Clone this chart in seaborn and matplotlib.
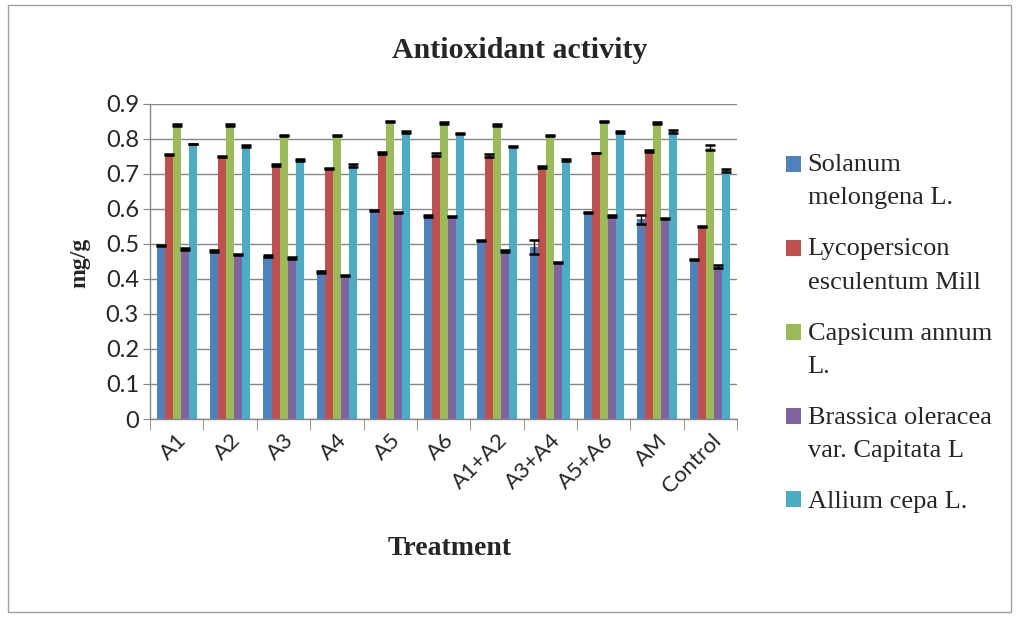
import numpy as np
import pandas as pd
import matplotlib
matplotlib.use("Agg")
import matplotlib.pyplot as plt
from matplotlib.patches import Rectangle, Patch
from matplotlib.legend_handler import HandlerPatch
import seaborn as sns

treatments = ["A1", "A2", "A3", "A4", "A5", "A6", "A1+A2", "A3+A4", "A5+A6", "AM", "Control"]
species = ["Solanum melongena L.", "Lycopersicon esculentum Mill", "Capsicum annum L.",
           "Brassica oleracea var. Capitata L", "Allium cepa L."]
legend_labels = ["Solanum\nmelongena L.", "Lycopersicon\nesculentum Mill", "Capsicum annum\nL.",
                 "Brassica oleracea\nvar. Capitata L", "Allium cepa L."]

solanum = [0.495, 0.480, 0.465, 0.420, 0.595, 0.580, 0.510, 0.490, 0.590, 0.570, 0.455]
lycopersicon = [0.755, 0.750, 0.725, 0.715, 0.760, 0.755, 0.752, 0.720, 0.760, 0.765, 0.550]
capsicum = [0.840, 0.840, 0.810, 0.810, 0.850, 0.845, 0.840, 0.810, 0.850, 0.845, 0.775]
brassica = [0.485, 0.470, 0.460, 0.410, 0.590, 0.578, 0.480, 0.447, 0.580, 0.572, 0.435]
allium = [0.785, 0.780, 0.740, 0.725, 0.820, 0.815, 0.778, 0.740, 0.820, 0.822, 0.710]

solanum_err = [0.002, 0.002, 0.002, 0.004, 0.002, 0.002, 0.002, 0.020, 0.002, 0.012, 0.002]
lycopersicon_err = [0.001, 0.002, 0.002, 0.002, 0.002, 0.004, 0.004, 0.002, 0.001, 0.002, 0.002]
capsicum_err = [0.002, 0.002, 0.002, 0.002, 0.001, 0.002, 0.002, 0.002, 0.002, 0.002, 0.007]
brassica_err = [0.002, 0.002, 0.002, 0.002, 0.002, 0.002, 0.002, 0.001, 0.002, 0.002, 0.004]
allium_err = [0.001, 0.002, 0.002, 0.004, 0.002, 0.001, 0.002, 0.002, 0.002, 0.004, 0.004]

values = [solanum, lycopersicon, capsicum, brassica, allium]
errors = [solanum_err, lycopersicon_err, capsicum_err, brassica_err, allium_err]
colors = ["#4F81BD", "#C0504D", "#9BBB59", "#8064A2", "#4BACC6"]

rows = []
for sp, vals in zip(species, values):
    for t, v in zip(treatments, vals):
        rows.append({"Treatment": t, "Species": sp, "value": v})
df = pd.DataFrame(rows)

sns.set_style("white")
plt.rcParams["font.family"] = ["Lato", "DejaVu Sans"]

fig = plt.figure(figsize=(10.21, 6.18), dpi=100)
ax = fig.add_axes([0.147, 0.322, 0.575, 0.51])

sns.barplot(data=df, x="Treatment", y="value", hue="Species", order=treatments,
            hue_order=species, palette=colors, width=0.75, errorbar=None,
            saturation=1, linewidth=0, ax=ax, legend=False)

for cont, err in zip(ax.containers, errors):
    xs = [p.get_x() + p.get_width() / 2 for p in cont]
    ys = [p.get_height() for p in cont]
    ax.errorbar(xs, ys, yerr=err, fmt="none", ecolor="black", elinewidth=1,
                capsize=3.5, capthick=1.8, zorder=5)

ax.set_ylim(0, 0.9)
ax.set_xlim(-0.5, len(treatments) - 0.5)
ax.set_yticks(np.arange(0, 0.91, 0.1))
ax.set_yticklabels(["0" if v == 0 else f"{v:.1f}" for v in np.arange(0, 0.91, 0.1)], fontsize=17)
ax.yaxis.grid(True, color="#868686", linewidth=1)
ax.set_axisbelow(True)
ax.tick_params(axis="y", direction="out", length=5, color="#868686", left=True, pad=3)

ax.set_xticks(range(len(treatments)))
ax.set_xticklabels(treatments, rotation=45, ha="right", rotation_mode="anchor", fontsize=16)
ax.set_xticks(np.arange(-0.5, len(treatments), 1), minor=True)
ax.tick_params(axis="x", which="major", length=0, pad=8)
ax.tick_params(axis="x", which="minor", direction="out", length=8, color="#868686", bottom=True)

for s in ["top", "right"]:
    ax.spines[s].set_visible(False)
for s in ["left", "bottom"]:
    ax.spines[s].set_color("#868686")
    ax.spines[s].set_linewidth(1)

ax.set_xlabel("")
ax.set_ylabel("")

fig.text(0.509, 0.918, "Antioxidant activity", ha="center", va="center",
         fontsize=21.5, fontweight="bold", family="Liberation Serif")
fig.text(0.440, 0.112, "Treatment", ha="center", va="center",
         fontsize=20, fontweight="bold", family="Liberation Serif")
fig.text(0.078, 0.575, "mg/g", ha="center", va="center", rotation=90,
         fontsize=17, fontweight="bold", family="Liberation Serif")


# legend squares sit next to the first line of each label
def make_square(offset):
    def square(legend, orig_handle, xdescent, ydescent, width, height, fontsize):
        return Rectangle((-xdescent, -ydescent + offset), width, height)
    return square


handles = [Patch(facecolor=c, edgecolor="none") for c in colors]
hmap = {}
for h, lab in zip(handles, legend_labels):
    off = 12.5 if "\n" in lab else 0
    hmap[h] = HandlerPatch(patch_func=make_square(off))

leg = fig.legend(handles, legend_labels, loc="center left", bbox_to_anchor=(0.747, 0.46),
                 frameon=False, prop={"family": "Liberation Serif", "size": 19},
                 handlelength=0.55, handleheight=0.55, handletextpad=0.25, labelspacing=1.1,
                 handler_map=hmap)
for t in leg.get_texts():
    t.set_linespacing(1.65)

fig.patches.append(Rectangle((0.008, 0.01), 0.982, 0.982, transform=fig.transFigure,
                             fill=False, edgecolor="#a0a0a0", linewidth=1))

fig.savefig("out.png", dpi=100)
